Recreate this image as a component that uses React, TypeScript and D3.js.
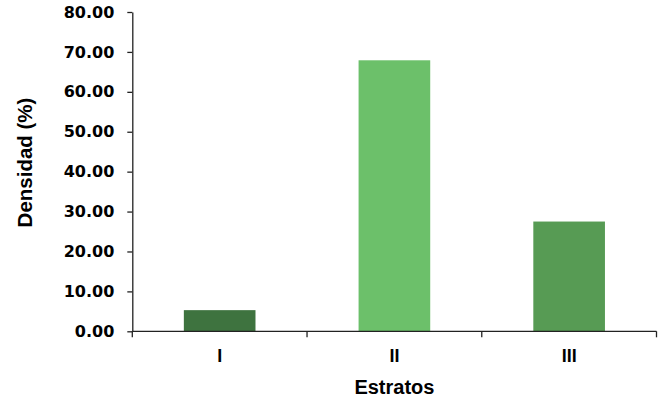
import React, { useEffect, useRef } from "react";
import * as d3 from "d3";

const categories = ["I", "II", "III"];
const densidad = [5.3, 67.9, 27.5];
const barColors = ["#3e733f", "#6cc06a", "#579b54"];
const yTicks = [0, 10, 20, 30, 40, 50, 60, 70, 80];

const W = 665;
const H = 402;
const M = { top: 12, right: 8.5, bottom: 70.7, left: 132.3 };

export default function App() {
  const ref = useRef<SVGSVGElement | null>(null);

  useEffect(() => {
    const svg = d3.select(ref.current);
    svg.selectAll("*").remove();

    const x = d3
      .scaleBand<string>()
      .domain(categories)
      .range([M.left, W - M.right])
      .paddingInner(0.59)
      .paddingOuter(0.295);
    const xCells = d3
      .scaleBand<string>()
      .domain(categories)
      .range([M.left, W - M.right])
      .padding(0);
    const y = d3.scaleLinear().domain([0, 80]).range([H - M.bottom, M.top]);

    const axisColor = "#222";

    // bars
    svg
      .append("g")
      .selectAll("rect")
      .data(categories)
      .join("rect")
      .attr("x", (d) => x(d)!)
      .attr("width", x.bandwidth())
      .attr("y", (_, i) => y(densidad[i]))
      .attr("height", (_, i) => y(0) - y(densidad[i]))
      .attr("fill", (_, i) => barColors[i]);

    // y axis
    const yAxis = d3
      .axisLeft(y)
      .tickValues(yTicks)
      .tickSize(5)
      .tickSizeOuter(0)
      .tickPadding(13)
      .tickFormat(d3.format(".2f"));
    const gy = svg
      .append("g")
      .attr("transform", `translate(${M.left},0)`)
      .call(yAxis);
    gy.selectAll("path, line").attr("stroke", axisColor).attr("stroke-width", 1.3);
    gy.selectAll("text")
      .attr("font-family", "'DejaVu Sans', sans-serif")
      .attr("font-weight", "bold")
      .attr("font-size", 16)
      .attr("fill", "#000");

    // x axis
    const y0 = y(0);
    const gx = svg.append("g");
    gx.append("line")
      .attr("x1", M.left)
      .attr("x2", W - M.right)
      .attr("y1", y0)
      .attr("y2", y0)
      .attr("stroke", axisColor)
      .attr("stroke-width", 1.3);
    const boundaries = categories.map((c) => xCells(c)!).concat([xCells.range()[1]]);
    gx.selectAll("line.tick")
      .data(boundaries)
      .join("line")
      .attr("class", "tick")
      .attr("x1", (d) => d)
      .attr("x2", (d) => d)
      .attr("y1", y0)
      .attr("y2", y0 + 6)
      .attr("stroke", axisColor)
      .attr("stroke-width", 1.3);
    gx.selectAll("text")
      .data(categories)
      .join("text")
      .attr("x", (d) => x(d)! + x.bandwidth() / 2)
      .attr("y", y0 + 31)
      .attr("text-anchor", "middle")
      .attr("font-family", "'Liberation Sans', Arial, sans-serif")
      .attr("font-weight", "bold")
      .attr("font-size", 18)
      .attr("fill", "#000")
      .text((d) => d);

    // x title
    svg
      .append("text")
      .attr("x", (x("II")! + x.bandwidth() / 2))
      .attr("y", 394)
      .attr("text-anchor", "middle")
      .attr("font-family", "'Liberation Sans', Arial, sans-serif")
      .attr("font-weight", "bold")
      .attr("font-size", 20)
      .attr("fill", "#000")
      .text("Estratos");

    // y title
    svg
      .append("text")
      .attr("transform", `translate(32,162.5) rotate(-90)`)
      .attr("text-anchor", "middle")
      .attr("font-family", "'Liberation Sans', Arial, sans-serif")
      .attr("font-weight", "bold")
      .attr("font-size", 20.5)
      .attr("fill", "#000")
      .text("Densidad (%)");
  }, []);

  return (
    <svg
      ref={ref}
      width={W}
      height={H}
      style={{ position: "absolute", left: 0, top: 0, background: "#fff" }}
    />
  );
}
